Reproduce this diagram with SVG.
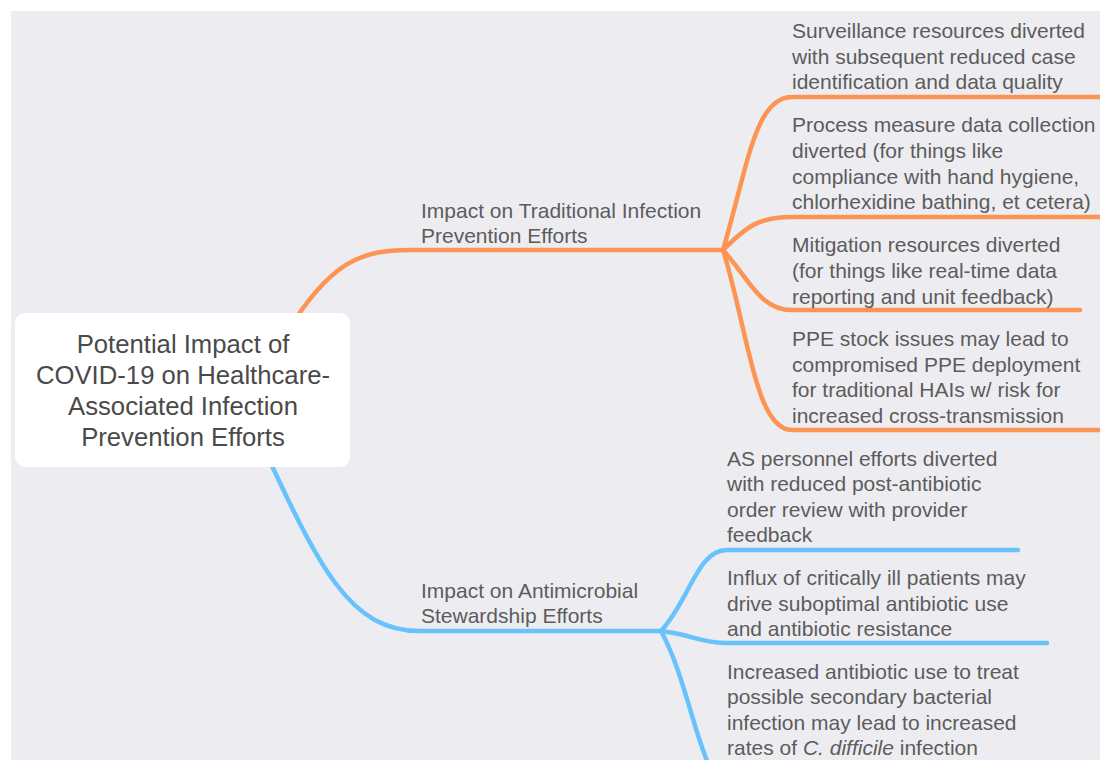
<svg xmlns="http://www.w3.org/2000/svg" width="1100" height="760" viewBox="0 0 1100 760">
<style>
.bg{fill:#ededf1}
.or{fill:none;stroke:#fd9453;stroke-width:4.5;stroke-linecap:round}
.bl{fill:none;stroke:#68c2fb;stroke-width:4.5;stroke-linecap:round}
.t{font-family:"Liberation Sans",Arial,sans-serif;font-size:21px;fill:#5c5c5c}
.c{font-family:"Liberation Sans",Arial,sans-serif;font-size:25.7px;fill:#4a4a4a;text-anchor:middle}
</style>
<rect x="0" y="0" width="1100" height="760" fill="#ffffff"/>
<rect class="bg" x="11" y="11" width="1089" height="749"/>
<g id="connectors">
<path class="or" d="M 285 335 C 330 262, 360 250, 410 250 L 723 250"/>
<path class="or" d="M 723 250 C 748 165, 755 97, 792 97 L 1100 97"/>
<path class="or" d="M 723 250 C 748 225, 760 217, 792 217 L 1100 217"/>
<path class="or" d="M 723 250 C 750 280, 760 310, 792 310 L 1080 310"/>
<path class="or" d="M 723 250 C 748 330, 755 430, 792 430 L 1100 430"/>
<path class="bl" d="M 260 440 C 320 570, 350 631, 420 631 L 661 631"/>
<path class="bl" d="M 661 631 C 690 600, 697 550, 727 550 L 1018 550"/>
<path class="bl" d="M 661 631 C 690 634, 700 643, 727 643 L 1047 643"/>
<path class="bl" d="M 661 631 C 685 675, 695 740, 712 772"/>
</g>
<g id="root">
<rect x="15" y="313" width="335" height="154" rx="10" fill="#ffffff"/>
<text class="c" x="183" y="353">Potential Impact of</text>
<text class="c" x="183" y="384">COVID-19 on Healthcare-</text>
<text class="c" x="183" y="415">Associated Infection</text>
<text class="c" x="183" y="446">Prevention Efforts</text>
</g>
<g id="traditional">
<text class="t" x="421" y="218">Impact on Traditional Infection</text>
<text class="t" x="421" y="243">Prevention Efforts</text>
</g>
<g id="t1">
<text class="t" x="792" y="38">Surveillance resources diverted</text>
<text class="t" x="792" y="64">with subsequent reduced case</text>
<text class="t" x="792" y="89">identification and data quality</text>
</g>
<g id="t2">
<text class="t" x="792" y="132">Process measure data collection</text>
<text class="t" x="792" y="158">diverted (for things like</text>
<text class="t" x="792" y="184">compliance with hand hygiene,</text>
<text class="t" x="792" y="209">chlorhexidine bathing, et cetera)</text>
</g>
<g id="t3">
<text class="t" x="792" y="252">Mitigation resources diverted</text>
<text class="t" x="792" y="278">(for things like real-time data</text>
<text class="t" x="792" y="304">reporting and unit feedback)</text>
</g>
<g id="t4">
<text class="t" x="792" y="346">PPE stock issues may lead to</text>
<text class="t" x="792" y="372">compromised PPE deployment</text>
<text class="t" x="792" y="397">for traditional HAIs w/ risk for</text>
<text class="t" x="792" y="423">increased cross-transmission</text>
</g>
<g id="stewardship">
<text class="t" x="421" y="598">Impact on Antimicrobial</text>
<text class="t" x="421" y="623">Stewardship Efforts</text>
</g>
<g id="s1">
<text class="t" x="727" y="466">AS personnel efforts diverted</text>
<text class="t" x="727" y="491">with reduced post-antibiotic</text>
<text class="t" x="727" y="517">order review with provider</text>
<text class="t" x="727" y="542">feedback</text>
</g>
<g id="s2">
<text class="t" x="727" y="585">Influx of critically ill patients may</text>
<text class="t" x="727" y="611">drive suboptimal antibiotic use</text>
<text class="t" x="727" y="636">and antibiotic resistance</text>
</g>
<g id="s3">
<text class="t" x="727" y="679">Increased antibiotic use to treat</text>
<text class="t" x="727" y="704">possible secondary bacterial</text>
<text class="t" x="727" y="730">infection may lead to increased</text>
<text class="t" x="727" y="755">rates of <tspan font-style="italic">C. difficile</tspan> infection</text>
</g>
</svg>
